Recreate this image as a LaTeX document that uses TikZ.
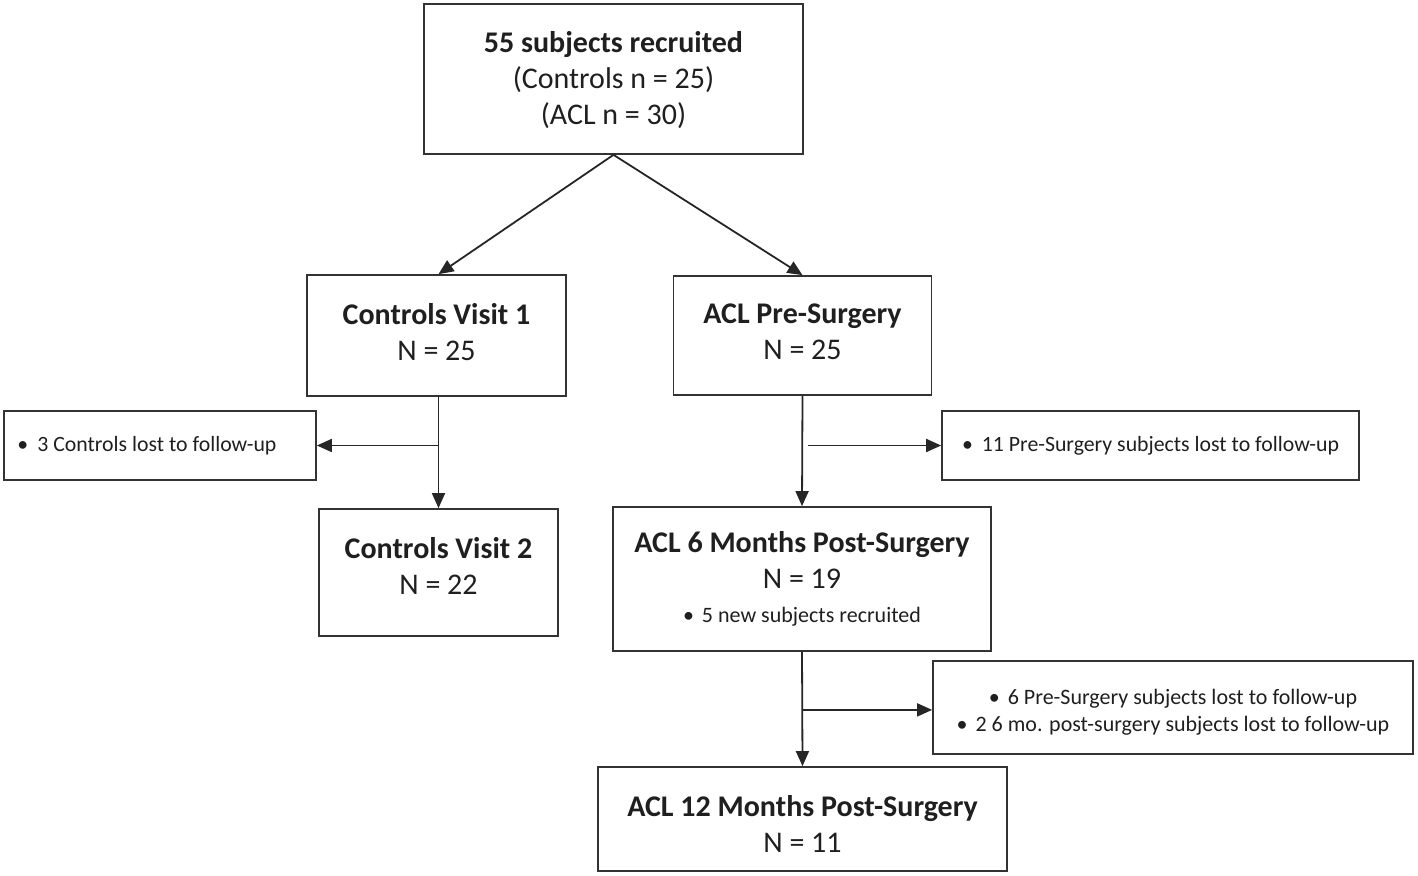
\documentclass[tikz,border=0pt]{standalone}
\usepackage{fontspec}
\setmainfont{Carlito}
\usetikzlibrary{arrows.meta}
\begin{document}
\begin{tikzpicture}[x=0.5pt,y=-0.5pt,
  box/.style={draw=black!80, line width=0.85pt, inner sep=0pt, align=center, text=black!88},
  big/.style={font=\fontsize{15}{18}\selectfont},
  small/.style={font=\fontsize{10.9}{13.5}\selectfont},
  mid/.style={font=\fontsize{11}{13.5}\selectfont},
  arr/.style={draw=black!85, line width=0.9pt, -{Triangle[length=7.5pt,width=6.5pt]}}]
\useasboundingbox (0,0) rectangle (1418,876);

\node[box, big, minimum width=189.5pt, minimum height=75pt, text height=48pt] (top) at (613.5,79)
  {\textbf{55 subjects recruited}\\(Controls n = 25)\\(ACL n = 30)};
\node[box, big, minimum width=129.5pt, minimum height=60.5pt, text depth=3.5pt] (c1) at (436.5,335.5)
  {\textbf{Controls Visit 1}\\N = 25};
\node[box, big, minimum width=129pt, minimum height=59.5pt, text depth=3.5pt] (pre) at (802.5,335.5)
  {\textbf{ACL Pre-Surgery}\\N = 25};
\node[box, small, minimum width=156pt, minimum height=34.5pt] (l1) at (160,445.5)
  {\textbullet\hspace{4.5pt}3 Controls lost to follow-up\hspace{13pt}};
\node[box, small, minimum width=208.5pt, minimum height=34.5pt] (l2) at (1150.5,445.5)
  {\textbullet\hspace{4.5pt}11 Pre-Surgery subjects lost to follow-up};
\node[box, big, minimum width=119.5pt, minimum height=63.5pt, text depth=6.5pt] (v2) at (438.5,572.5)
  {\textbf{Controls Visit 2}\\N = 22};
\node[box, big, minimum width=189pt, minimum height=72pt] (m6) at (802,579)
  {\textbf{ACL 6 Months Post-Surgery}\\N = 19\\[-1pt]
   \fontsize{11}{13.5}\selectfont\textbullet\hspace{4pt}5 new subjects recruited};
\node[box, mid, minimum width=240pt, minimum height=46.5pt, text height=26pt] (l3) at (1173,707.5)
  {\textbullet\hspace{4pt}6 Pre-Surgery subjects lost to follow-up\\
   \textbullet\hspace{4pt}2 6 mo. post-surgery subjects lost to follow-up};
\node[box, big, minimum width=204.5pt, minimum height=52pt, text height=33pt] (m12) at (802.5,819)
  {\textbf{ACL 12 Months Post-Surgery}\\N = 11};

\draw[arr] (top.south) -- (c1.north -| v2.north);
\draw[arr] (top.south) -- (pre.north);
\draw[arr] (c1.south -| v2.north) -- (v2.north);
\draw[arr] (l1.east -| v2.north) -- (l1.east);
\draw[arr] (pre.south) -- (m6.north);
\draw[arr] ([xshift=2.5pt]l2.west -| pre.south) -- (l2.west);
\draw[arr] (m6.south) -- (m12.north);
\draw[arr] ([yshift=-1.2pt]l3.west -| m6.south) -- ([yshift=-1.2pt]l3.west);
\end{tikzpicture}
\end{document}
